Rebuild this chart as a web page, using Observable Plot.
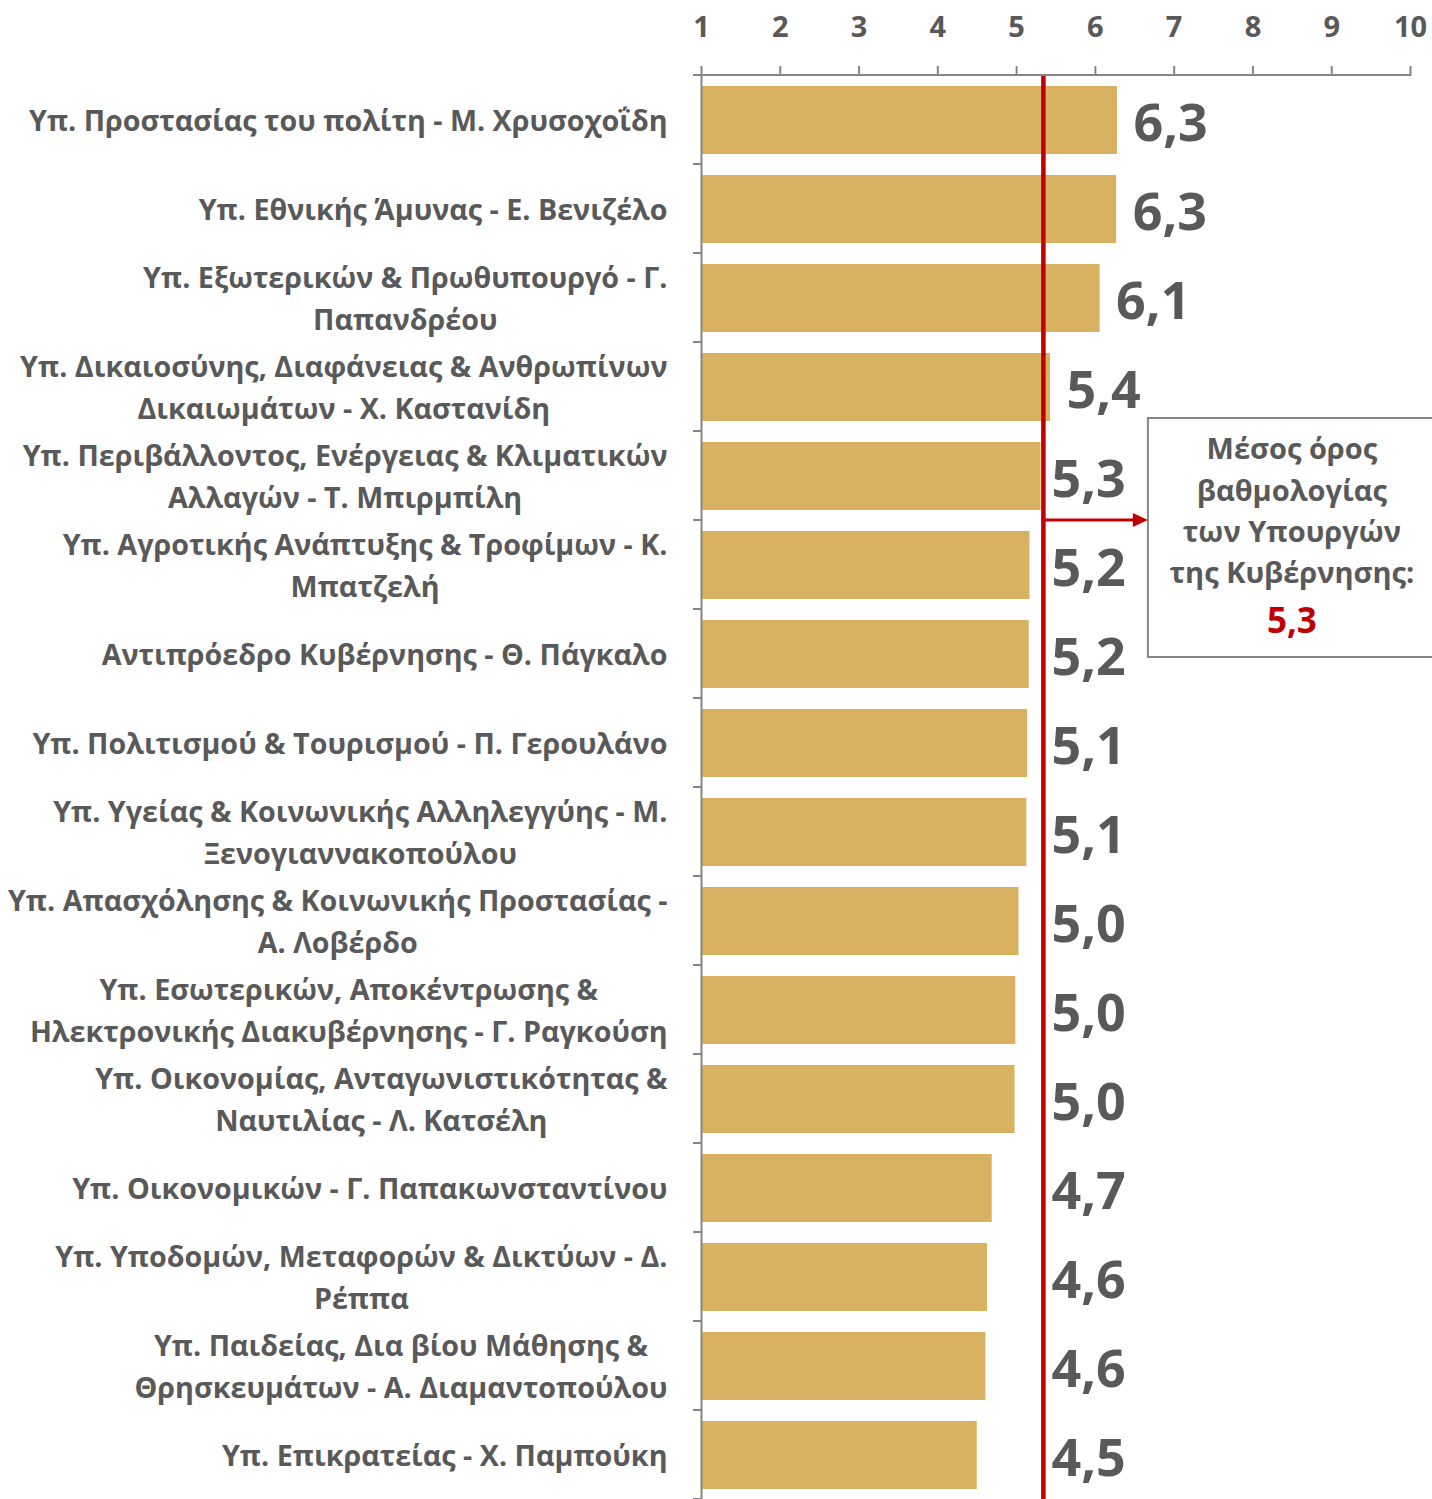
<!DOCTYPE html>
<html>
<head>
<meta charset="utf-8">
<script src="https://cdn.jsdelivr.net/npm/d3@7"></script>
<script src="https://cdn.jsdelivr.net/npm/@observablehq/plot@0.6"></script>
<style>
  body { margin: 0; background: #fff; }
  #chart { position: relative; width: 1432px; height: 1499px; overflow: hidden; }
</style>
</head>
<body>
<div id="chart"></div>
<script>
const ministers = [
  "Υπ. Προστασίας του πολίτη - Μ. Χρυσοχοΐδη",
  "Υπ. Εθνικής Άμυνας - Ε. Βενιζέλο",
  "Υπ. Εξωτερικών & Πρωθυπουργό - Γ.\nΠαπανδρέου",
  "Υπ. Δικαιοσύνης, Διαφάνειας & Ανθρωπίνων\nΔικαιωμάτων - Χ. Καστανίδη",
  "Υπ. Περιβάλλοντος, Ενέργειας & Κλιματικών\nΑλλαγών - Τ. Μπιρμπίλη",
  "Υπ. Αγροτικής Ανάπτυξης & Τροφίμων - Κ.\nΜπατζελή",
  "Αντιπρόεδρο Κυβέρνησης - Θ. Πάγκαλο",
  "Υπ. Πολιτισμού & Τουρισμού - Π. Γερουλάνο",
  "Υπ. Υγείας & Κοινωνικής Αλληλεγγύης - Μ.\nΞενογιαννακοπούλου",
  "Υπ. Απασχόλησης & Κοινωνικής Προστασίας -\nΑ. Λοβέρδο",
  "Υπ. Εσωτερικών, Αποκέντρωσης &\nΗλεκτρονικής Διακυβέρνησης - Γ. Ραγκούση",
  "Υπ. Οικονομίας, Ανταγωνιστικότητας &\nΝαυτιλίας - Λ. Κατσέλη",
  "Υπ. Οικονομικών - Γ. Παπακωνσταντίνου",
  "Υπ. Υποδομών, Μεταφορών & Δικτύων - Δ.\nΡέππα",
  "Υπ. Παιδείας, Δια βίου Μάθησης &\nΘρησκευμάτων - Α. Διαμαντοπούλου",
  "Υπ. Επικρατείας - Χ. Παμπούκη"
];
const scores = [6.28, 6.27, 6.06, 5.43, 5.31, 5.17, 5.16, 5.14, 5.13, 5.03, 4.99, 4.98, 4.69, 4.63, 4.61, 4.50];
const meanLine = 5.34;
const meanLabel = "5,3";
const annotationLines = ["Μέσος όρος", "βαθμολογίας", "των Υπουργών", "της Κυβέρνησης:"];
const xTicks = [1, 2, 3, 4, 5, 6, 7, 8, 9, 10];

const data = ministers.map((name, i) => ({name, value: scores[i]}));
const fmt = v => v.toFixed(1).replace(".", ",");
const FONT = "'Open Sans', sans-serif";
const GREY = "#595959", AXIS = "#868686", GOLD = "#D9B261", RED = "#C00000";

const plot = Plot.plot({
  width: 1432, height: 1499,
  marginTop: 75, marginBottom: 0, marginLeft: 701, marginRight: 22,
  style: {fontFamily: FONT, fontWeight: "bold", color: GREY, background: "#fff", overflow: "visible"},
  x: {domain: [xTicks[0], xTicks[xTicks.length - 1]], axis: null, label: null},
  y: {domain: ministers, paddingInner: 0.24, paddingOuter: 0.12, axis: null, label: null},
  marks: [
    Plot.barX(data, {y: "name", x1: xTicks[0], x2: "value", fill: GOLD}),
    Plot.ruleX([xTicks[0]], {stroke: AXIS, strokeWidth: 2}),
    Plot.axisX(xTicks, {anchor: "top", tickSize: 10, stroke: AXIS, strokeWidth: 2, text: null, label: null}),
    Plot.axisX(xTicks, {anchor: "top", tickSize: 0, tickPadding: 39, fontSize: 29, fontWeight: "bold", color: GREY, label: null, tickFormat: d => String(d)}),
    Plot.axisY({anchor: "left", tickSize: 0, tickPadding: 34, fontSize: 28.7, fontWeight: "bold", lineHeight: 1.46, color: GREY, label: null, dy: -3, tickFormat: d => d}),
    Plot.ruleX([meanLine], {stroke: RED, strokeWidth: 4.5}),
    Plot.text(data, {filter: d => d.value > meanLine, y: "name", x: "value", text: d => fmt(d.value),
      textAnchor: "start", dx: 16, dy: 4, fontSize: 52, fontWeight: "bold", fill: GREY}),
    Plot.text(data, {filter: d => d.value <= meanLine, y: "name", x: () => meanLine, text: d => fmt(d.value),
      textAnchor: "start", dx: 8, dy: 4, fontSize: 52, fontWeight: "bold", fill: GREY})
  ]
});

document.getElementById("chart").append(plot);

// center the lines of multi-line category labels inside their right-aligned block
d3.select(plot).selectAll("g[aria-label='y-axis tick label'] text").each(function() {
  const tspans = this.querySelectorAll("tspan");
  if (tspans.length < 2) return;
  let w = 0;
  tspans.forEach(t => { w = Math.max(w, t.getComputedTextLength()); });
  this.setAttribute("text-anchor", "middle");
  tspans.forEach(t => t.setAttribute("x", -w / 2));
});

const svg = d3.select(plot);
const xs = plot.scale("x"), ys = plot.scale("y");
const X = v => xs.apply(v);
const r0 = ys.range[0];
const step = ys.step;
const g = svg.append("g");

// top axis line
g.append("line").attr("x1", X(xTicks[0]) - 1).attr("x2", X(xTicks[xTicks.length - 1]) + 1)
  .attr("y1", r0).attr("y2", r0).attr("stroke", AXIS).attr("stroke-width", 2);

// category boundary ticks on the left axis
for (let i = 0; i <= ministers.length; i++) {
  const y = r0 + i * step;
  g.append("line").attr("x1", X(xTicks[0]) - 8).attr("x2", X(xTicks[0]))
    .attr("y1", y).attr("y2", y).attr("stroke", AXIS).attr("stroke-width", 2);
}

// annotation: arrow from mean line to a box
const lineX = X(meanLine);
const arrowY = r0 + 5 * step;
const boxL = lineX + 105;
g.append("line").attr("x1", lineX + 2).attr("x2", boxL - 12).attr("y1", arrowY).attr("y2", arrowY)
  .attr("stroke", RED).attr("stroke-width", 3);
g.append("path").attr("d", `M${boxL},${arrowY}L${boxL - 15},${arrowY - 7}L${boxL - 15},${arrowY + 7}Z`).attr("fill", RED);
g.append("rect").attr("x", boxL).attr("y", arrowY - 102).attr("width", 320).attr("height", 239)
  .attr("fill", "#fff").attr("stroke", AXIS).attr("stroke-width", 2);
const cx = boxL + 144;
const offs = [-71, -29, 12, 53];
annotationLines.forEach((t, i) => {
  g.append("text").attr("x", cx).attr("y", arrowY + offs[i]).attr("dy", "0.35em")
    .attr("text-anchor", "middle").attr("font-size", 29).attr("font-weight", "bold")
    .attr("fill", GREY).attr("font-family", FONT).text(t);
});
g.append("text").attr("x", cx).attr("y", arrowY + 101).attr("dy", "0.35em")
  .attr("text-anchor", "middle").attr("font-size", 35).attr("font-weight", "bold")
  .attr("fill", RED).attr("font-family", FONT).text(meanLabel);
</script>
</body>
</html>
